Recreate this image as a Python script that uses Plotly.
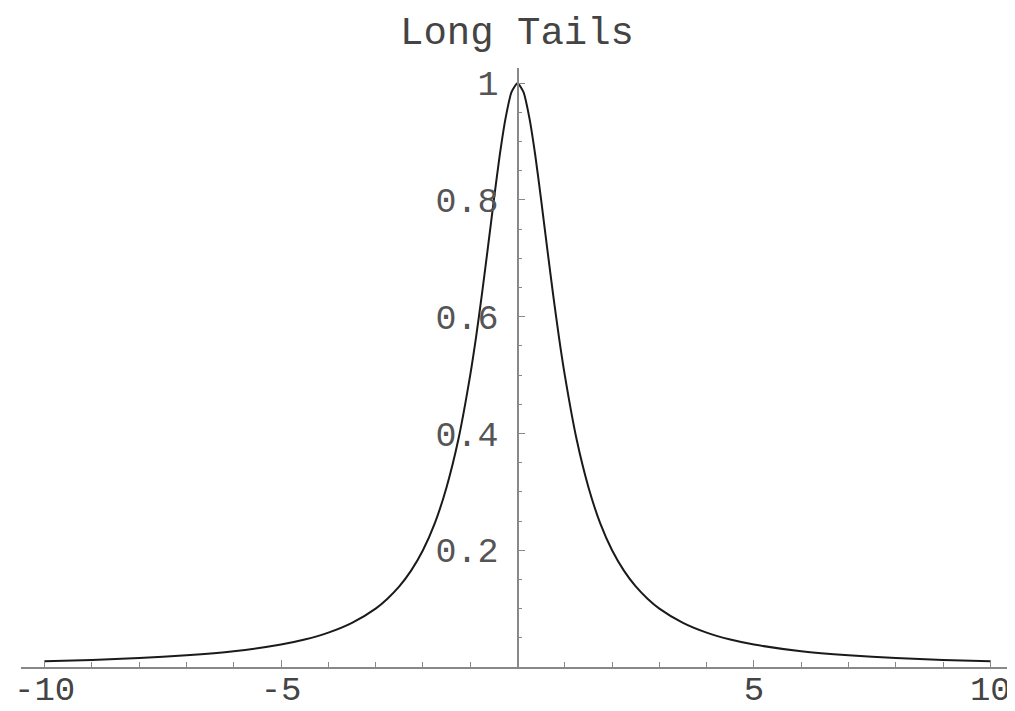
import plotly.graph_objects as go

# Curve values
x_vals = [-10, -9, -8, -7, -6, -5, -4.5, -4, -3.5, -3, -2.75, -2.5, -2.25, -2, -1.75,
          -1.5, -1.25, -1, -0.875, -0.75, -0.625, -0.5, -0.375, -0.25, -0.125, 0,
          0.125, 0.25, 0.375, 0.5, 0.625, 0.75, 0.875, 1, 1.25, 1.5, 1.75, 2, 2.25,
          2.5, 2.75, 3, 3.5, 4, 4.5, 5, 6, 7, 8, 9, 10]
y_vals = [0.0099, 0.0122, 0.0154, 0.020, 0.027, 0.0385, 0.047, 0.0588, 0.0755, 0.100,
          0.117, 0.138, 0.165, 0.200, 0.246, 0.308, 0.390, 0.500, 0.566, 0.640, 0.719,
          0.800, 0.877, 0.941, 0.985, 1.000,
          0.985, 0.941, 0.877, 0.800, 0.719, 0.640, 0.566, 0.500, 0.390, 0.308, 0.246,
          0.200, 0.165, 0.138, 0.117, 0.100, 0.0755, 0.0588, 0.047, 0.0385, 0.027,
          0.020, 0.0154, 0.0122, 0.0099]

x_tick_vals = [-10, -5, 5, 10]
x_tick_text = ["-10", "-5", "5", "10"]
y_tick_vals = [0.2, 0.4, 0.6, 0.8, 1.0]
y_tick_text = ["0.2", "0.4", "0.6", "0.8", "1"]
title_text = "Long Tails"

FONT = "Liberation Mono, Courier New, monospace"

fig = go.Figure()
fig.add_trace(go.Scatter(x=x_vals, y=y_vals, mode="lines",
                         line=dict(color="#1a1a1a", width=2, shape="spline", smoothing=0.6),
                         showlegend=False, hoverinfo="skip"))

fig.update_layout(
    width=1015, height=711,
    margin=dict(l=13, r=9, t=60, b=52, autoexpand=False),
    paper_bgcolor="white", plot_bgcolor="white",
    title=dict(text=title_text, x=0.5015, xanchor="center", y=0.969, yanchor="middle",
               font=dict(family=FONT, size=39, color="#444444")),
    xaxis=dict(range=[-10.5, 10.5], showgrid=False, zeroline=False,
               showline=True, linecolor="#888888", linewidth=2,
               tickvals=x_tick_vals, ticktext=x_tick_text,
               ticks="inside", ticklen=7, tickcolor="#888888", tickwidth=1,
               minor=dict(dtick=1, tick0=0, ticks="inside", ticklen=5,
                          tickcolor="#888888", tickwidth=1, showgrid=False),
               tickfont=dict(family=FONT, size=34, color="#444444"),
               ticklabelstandoff=-10,
               anchor="y"),
    yaxis=dict(range=[0, 1.026], showgrid=False, zeroline=False,
               showline=True, linecolor="#888888", linewidth=2,
               tickvals=y_tick_vals, ticktext=y_tick_text,
               ticks="inside", ticklen=6, tickcolor="#888888", tickwidth=1,
               minor=dict(dtick=0.05, tick0=0, ticks="inside", ticklen=3,
                          tickcolor="#888888", tickwidth=1, showgrid=False),
               tickfont=dict(family=FONT, size=35, color="#555555"),
               ticklabelstandoff=11,
               anchor="free", position=0.5, side="left"),
)

fig.write_html("out.html")
